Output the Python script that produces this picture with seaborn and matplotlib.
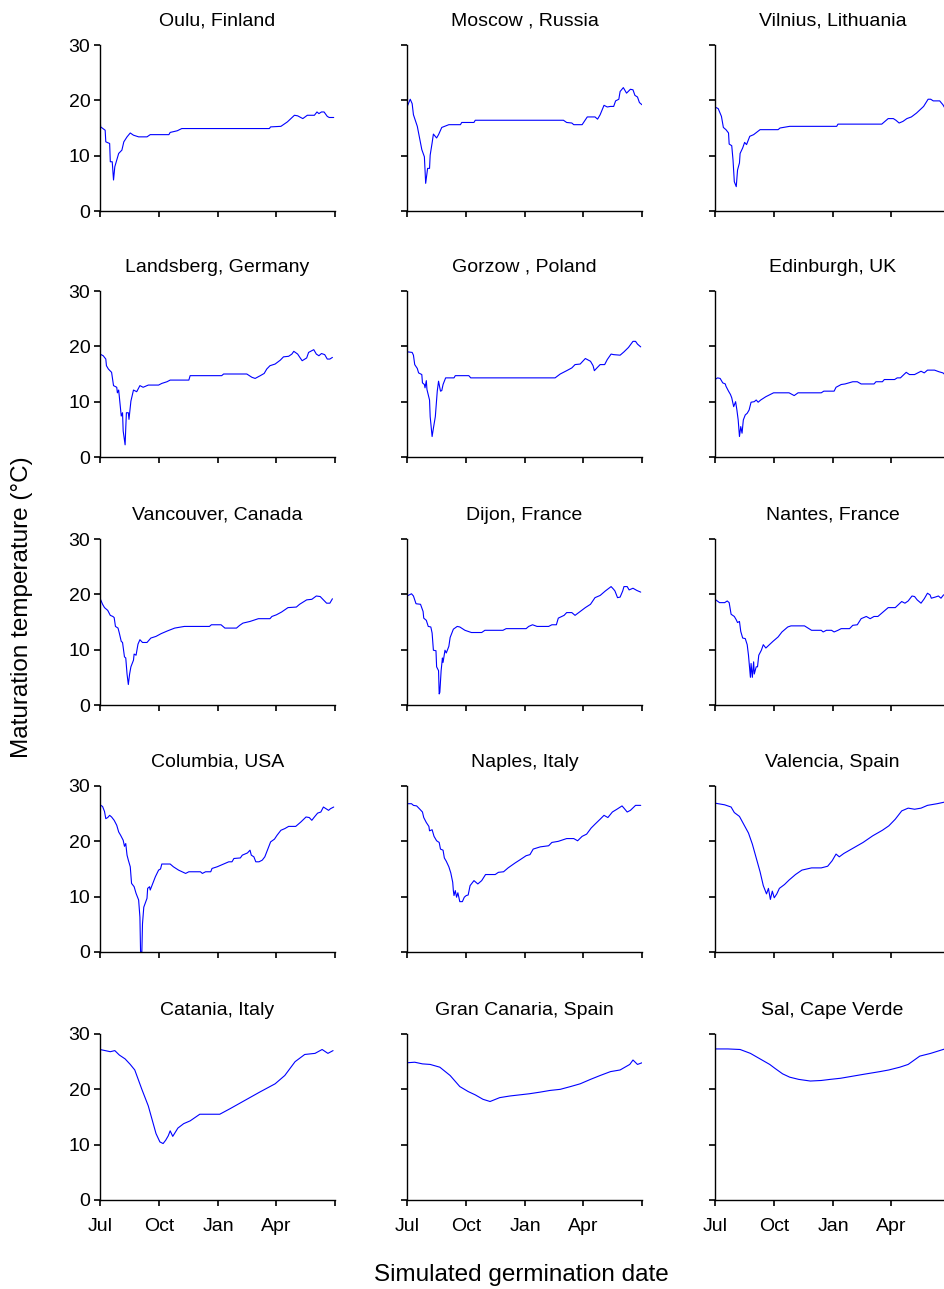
import matplotlib
matplotlib.use("Agg")
import matplotlib.pyplot as plt
import seaborn as sns
import pandas as pd

# Site names (panel titles), in reading order
sites = [
    "Oulu, Finland", "Moscow , Russia", "Vilnius, Lithuania",
    "Landsberg, Germany", "Gorzow , Poland", "Edinburgh, UK",
    "Vancouver, Canada", "Dijon, France", "Nantes, France",
    "Columbia, USA", "Naples, Italy", "Valencia, Spain",
    "Catania, Italy", "Gran Canaria, Spain", "Sal, Cape Verde",
]

# Days since 1 July and maturation temperature (deg C) for each site
oulu_day = [0, 1, 8, 9, 15, 16, 19, 21, 23, 29, 34, 37, 42, 47, 52, 60, 73, 78, 107, 109, 120, 127,
            263, 265, 281, 291, 302, 307, 315, 322, 333, 337, 340, 344, 348, 353, 356, 363]
oulu_temp = [16.7, 15.2, 14.6, 12.5, 12.2, 8.9, 8.9, 5.6, 8.0, 10.4, 11.0, 12.5, 13.4, 14.1, 13.7, 13.4, 13.4, 13.8, 13.8, 14.2, 14.5, 14.9,
             14.9, 15.2, 15.3, 16.1, 17.3, 17.2, 16.7, 17.3, 17.3, 17.9, 17.6, 17.9, 17.9, 17.1, 16.9, 16.9]

moscow_day = [0, 5, 8, 10, 16, 20, 23, 27, 29, 32, 35, 36, 39, 41, 46, 49, 54, 65, 83, 85, 104, 106,
              243, 248, 256, 259, 272, 280, 292, 296, 300, 306, 311, 316, 321, 324, 329, 331, 336, 341,
              347, 351, 354, 358, 361, 365]
moscow_temp = [18.8, 20.2, 19.4, 17.4, 15.3, 12.9, 11.1, 9.8, 5.0, 7.7, 7.7, 10.1, 12.3, 13.9, 13.2, 13.8, 15.1, 15.6, 15.6, 16.0, 16.0, 16.4,
               16.4, 16.0, 15.9, 15.6, 15.6, 17.0, 17.0, 16.6, 17.4, 19.1, 18.8, 18.9, 18.9, 19.9, 20.2, 21.6, 22.3, 21.3,
               22.0, 21.9, 20.9, 20.6, 19.6, 19.2]

vilnius_day = [0, 5, 10, 13, 17, 21, 22, 26, 28, 30, 33, 35, 38, 39, 43, 46, 49, 54, 60, 70, 98, 101, 116,
               189, 191, 259, 269, 277, 281, 286, 292, 298, 305, 313, 324, 331, 335, 339, 349, 354, 358, 365]
vilnius_temp = [18.8, 18.5, 17.1, 15.1, 14.7, 14.1, 12.1, 11.8, 9.2, 5.3, 4.4, 7.4, 8.7, 10.4, 11.4, 12.4, 12.0, 13.5, 13.8, 14.7, 14.7, 15.0, 15.3,
                15.3, 15.7, 15.7, 16.7, 16.7, 16.4, 15.9, 16.2, 16.7, 17.0, 17.7, 18.9, 20.2, 20.2, 19.9, 19.9, 19.2, 18.4, 18.2]

landsberg_day = [0, 5, 9, 10, 13, 18, 21, 26, 27, 29, 33, 35, 36, 39, 40, 41, 44, 45, 48, 52, 57, 62, 67,
                 75, 91, 96, 104, 109, 138, 140, 189, 192, 228, 236, 241, 249, 255, 259, 264, 272, 280,
                 285, 293, 298, 301, 307, 311, 314, 321, 324, 332, 336, 340, 344, 349, 353, 357, 361]
landsberg_temp = [18.6, 18.3, 17.7, 16.5, 15.9, 15.3, 12.9, 12.6, 11.6, 12.1, 7.4, 8.0, 4.7, 2.2, 5.2, 8.0, 8.0, 6.8, 10.1, 12.1, 11.8, 12.9, 12.6,
                  13.0, 13.0, 13.3, 13.6, 13.9, 13.9, 14.7, 14.7, 15.0, 15.0, 14.4, 14.2, 14.7, 15.1, 15.9, 16.5, 16.8, 17.5,
                  18.1, 18.2, 18.6, 19.1, 18.6, 17.9, 17.4, 17.9, 18.9, 19.4, 18.6, 18.3, 18.7, 18.5, 17.7, 17.7, 18.0]

gorzow_day = [1, 8, 10, 12, 16, 18, 23, 24, 27, 28, 30, 31, 35, 36, 39, 41, 44, 47, 49, 52, 54, 56, 60,
              73, 75, 96, 99, 230, 238, 248, 256, 261, 269, 277, 285, 289, 291, 295, 300, 307, 311, 317,
              321, 331, 337, 344, 351, 355, 358, 363]
gorzow_temp = [19.0, 18.9, 18.4, 16.7, 16.0, 15.2, 14.9, 13.4, 13.1, 12.5, 13.8, 12.2, 10.3, 7.3, 3.7, 5.2, 7.3, 11.9, 13.7, 11.9, 12.0, 13.1, 14.3,
               14.3, 14.7, 14.7, 14.3, 14.3, 15.0, 15.6, 16.1, 16.7, 16.8, 17.8, 17.3, 16.5, 15.6, 16.1, 16.7, 16.7, 17.6, 18.6,
               18.5, 18.4, 19.0, 19.8, 20.9, 20.9, 20.4, 19.9]

edinburgh_day = [0, 4, 8, 12, 16, 17, 21, 24, 26, 29, 32, 34, 36, 38, 40, 42, 44, 47, 50, 53, 56, 61, 64,
                 67, 71, 79, 91, 115, 123, 129, 165, 169, 185, 188, 196, 202, 214, 221, 227, 247, 250,
                 260, 263, 279, 283, 288, 297, 302, 310, 320, 325, 330, 341, 348, 354, 358, 365]
edinburgh_temp = [14.0, 14.3, 14.2, 13.4, 13.2, 12.8, 11.9, 11.3, 10.7, 9.1, 10.0, 8.5, 6.7, 3.7, 5.5, 4.3, 6.7, 7.6, 7.9, 8.5, 9.9, 10.0, 10.3,
                  9.9, 10.3, 10.9, 11.6, 11.6, 11.1, 11.6, 11.6, 11.9, 11.9, 12.6, 13.1, 13.2, 13.6, 13.6, 13.2, 13.2, 13.6,
                  13.6, 14.0, 14.0, 14.3, 14.3, 15.3, 14.9, 14.9, 15.5, 15.2, 15.7, 15.7, 15.4, 15.2, 14.8, 14.6]

vancouver_day = [0, 4, 7, 12, 16, 20, 22, 24, 28, 30, 33, 35, 38, 40, 42, 44, 46, 48, 52, 53, 56, 59, 62,
                 66, 73, 79, 87, 95, 105, 116, 131, 170, 173, 188, 194, 212, 217, 222, 233, 246, 264,
                 267, 274, 282, 292, 305, 310, 321, 329, 336, 342, 347, 352, 357, 361]
vancouver_temp = [19.3, 18.2, 17.6, 17.1, 16.2, 16.0, 15.8, 14.2, 13.9, 13.0, 11.5, 11.3, 8.7, 8.5, 5.6, 3.7, 5.6, 6.9, 8.1, 9.2, 9.0, 11.0, 11.8,
                  11.3, 11.3, 12.1, 12.4, 12.9, 13.4, 13.9, 14.2, 14.2, 14.5, 14.5, 13.9, 13.9, 14.4, 14.8, 15.1, 15.6, 15.6,
                  16.0, 16.3, 16.8, 17.6, 17.7, 18.2, 19.0, 19.1, 19.7, 19.6, 19.0, 18.4, 18.4, 19.2]

dijon_day = [0, 7, 10, 14, 21, 25, 26, 30, 33, 37, 39, 41, 45, 46, 49, 50, 51, 53, 55, 56, 59, 61, 65, 67,
             72, 78, 82, 90, 100, 116, 121, 149, 154, 185, 189, 195, 202, 220, 225, 232, 235, 244, 248,
             256, 261, 269, 277, 285, 292, 300, 308, 317, 321, 323, 327, 331, 335, 337, 342, 345, 351, 357, 363]
dijon_temp = [19.7, 20.1, 19.7, 18.3, 18.2, 16.9, 15.7, 15.3, 14.2, 14.1, 13.0, 9.9, 9.8, 6.9, 6.2, 2.0, 2.3, 6.2, 8.5, 7.7, 9.9, 9.4, 10.6, 12.2,
              13.7, 14.2, 14.1, 13.5, 13.1, 13.1, 13.5, 13.5, 13.8, 13.8, 14.2, 14.5, 14.2, 14.2, 14.5, 14.5, 15.7, 16.2, 16.7,
              16.7, 16.2, 16.9, 17.6, 18.2, 19.4, 19.8, 20.6, 21.4, 20.9, 20.6, 19.4, 19.5, 20.6, 21.4, 21.4, 20.8, 21.1, 20.7, 20.4]

nantes_day = [0, 7, 15, 19, 22, 25, 30, 33, 35, 38, 40, 43, 47, 50, 52, 55, 56, 58, 60, 61, 64, 66, 68, 72,
              75, 79, 90, 98, 104, 113, 118, 139, 150, 165, 168, 173, 181, 185, 191, 196, 209, 214, 221,
              227, 235, 241, 247, 253, 261, 269, 280, 290, 295, 300, 306, 310, 314, 320, 325, 330, 334,
              336, 342, 347, 351, 355, 358, 365]
nantes_temp = [19.1, 18.5, 18.5, 18.8, 18.5, 16.4, 16.0, 15.4, 14.9, 15.1, 13.3, 12.1, 12.0, 10.9, 9.0, 5.0, 7.5, 5.0, 7.8, 5.6, 6.9, 6.9, 9.0, 9.9,
               10.9, 10.3, 11.5, 12.3, 13.2, 14.1, 14.3, 14.3, 13.5, 13.5, 13.2, 13.5, 13.5, 13.2, 13.5, 13.8, 13.8, 14.4, 14.5,
               15.6, 16.0, 15.6, 16.0, 16.0, 16.8, 17.6, 17.6, 18.7, 18.4, 18.8, 19.7, 19.6, 19.0, 18.4, 19.2, 20.2, 19.9,
               19.3, 19.5, 19.7, 19.3, 19.9, 19.9, 19.8]

columbia_day = [0, 4, 7, 9, 12, 15, 18, 22, 26, 29, 32, 36, 38, 40, 42, 44, 47, 49, 53, 56, 60, 62, 63, 65,
                66, 68, 73, 74, 77, 78, 82, 86, 91, 94, 96, 109, 114, 122, 133, 138, 156, 159, 164, 172,
                174, 182, 192, 200, 205, 208, 218, 221, 229, 233, 235, 239, 242, 247, 252, 256, 259, 263,
                265, 271, 275, 281, 287, 293, 304, 312, 320, 325, 329, 333, 338, 343, 347, 351, 355, 358, 363]
columbia_temp = [26.6, 26.3, 25.4, 24.1, 24.3, 24.7, 24.4, 23.8, 22.9, 21.7, 21.1, 20.2, 19.1, 19.6, 17.5, 16.6, 15.4, 12.4, 11.8, 10.6, 9.4, 6.3, 0.0, 0.0,
                 5.1, 8.1, 9.7, 11.5, 11.8, 11.2, 12.4, 13.6, 14.8, 15.0, 15.9, 15.9, 15.4, 14.8, 14.2, 14.5, 14.5, 14.2, 14.5, 14.5,
                 15.1, 15.4, 15.9, 16.3, 16.3, 16.9, 17.0, 17.5, 17.9, 18.4, 17.5, 17.2, 16.3, 16.3, 16.6, 17.2, 18.1, 19.3,
                 19.9, 20.4, 21.1, 22.0, 22.3, 22.7, 22.7, 23.5, 24.4, 24.3, 23.8, 24.4, 25.1, 25.3, 26.2, 25.9, 25.6, 25.9, 26.2]

naples_day = [0, 7, 10, 15, 20, 24, 26, 30, 34, 35, 39, 42, 46, 50, 52, 56, 58, 61, 65, 68, 71, 72, 73, 75,
              77, 79, 82, 86, 89, 92, 95, 98, 104, 110, 116, 122, 137, 142, 150, 157, 168, 176, 185, 191,
              196, 207, 220, 225, 235, 248, 259, 265, 272, 279, 286, 292, 300, 306, 312, 319, 326, 334,
              337, 342, 347, 355, 363]
naples_temp = [26.8, 26.8, 26.5, 26.4, 25.8, 25.3, 24.3, 23.4, 22.7, 21.9, 22.1, 20.9, 20.1, 19.8, 18.6, 18.4, 17.0, 16.4, 15.4, 14.3, 12.6, 11.1, 10.2, 11.1,
               9.9, 10.7, 9.1, 9.1, 9.9, 10.2, 10.3, 12.0, 12.9, 12.3, 12.9, 14.0, 14.0, 14.4, 14.5, 15.2, 16.1, 16.7, 17.4, 17.6,
               18.6, 19.0, 19.2, 19.8, 20.0, 20.5, 20.5, 20.1, 20.9, 21.3, 22.4, 23.1, 24.0, 24.7, 24.3, 25.3, 25.8, 26.4,
               26.0, 25.3, 25.6, 26.5, 26.5]

valencia_day = [0, 15, 25, 30, 38, 45, 52, 58, 64, 70, 75, 80, 83, 86, 89, 92, 96, 100, 108, 115, 125, 135,
                150, 165, 175, 182, 188, 193, 200, 215, 230, 245, 260, 270, 280, 290, 300, 310, 320, 330, 345, 365]
valencia_temp = [26.9, 26.6, 26.2, 25.2, 24.5, 23.0, 21.5, 19.5, 17.0, 14.5, 12.0, 10.5, 11.5, 9.5, 11.0, 9.8, 10.5, 11.5, 12.2, 13.0, 14.0, 14.8,
                 15.2, 15.2, 15.5, 16.5, 17.7, 17.2, 17.8, 18.8, 19.8, 21.0, 22.0, 22.8, 24.0, 25.5, 26.0, 25.8, 26.0, 26.5, 26.8, 27.3]

catania_day = [0, 8, 16, 23, 30, 39, 47, 54, 65, 75, 81, 87, 93, 98, 102, 106, 109, 113, 121, 130, 140, 155,
               170, 186, 202, 225, 248, 272, 287, 303, 318, 334, 345, 354, 362]
catania_temp = [27.2, 27.0, 26.8, 27.0, 26.2, 25.5, 24.5, 23.5, 20.0, 17.0, 14.5, 12.0, 10.5, 10.2, 10.8, 11.6, 12.5, 11.5, 13.0, 13.8, 14.3, 15.5,
                15.5, 15.5, 16.5, 18.0, 19.5, 21.0, 22.5, 25.0, 26.3, 26.5, 27.2, 26.5, 27.0]

canaria_day = [0, 12, 24, 36, 51, 67, 82, 95, 106, 118, 129, 144, 160, 175, 190, 207, 222, 238, 254, 269,
               285, 300, 316, 331, 346, 351, 358, 365]
canaria_temp = [24.8, 24.9, 24.6, 24.5, 24.0, 22.5, 20.5, 19.6, 19.0, 18.2, 17.8, 18.5, 18.8, 19.0, 19.2, 19.5, 19.8, 20.0, 20.5, 21.0,
                21.8, 22.5, 23.2, 23.5, 24.5, 25.3, 24.5, 24.8]

sal_day = [0, 20, 39, 55, 70, 85, 93, 105, 116, 130, 148, 165, 179, 195, 210, 230, 256, 270, 287, 300, 318, 335, 357, 365]
sal_temp = [27.3, 27.3, 27.2, 26.5, 25.5, 24.5, 23.8, 22.8, 22.2, 21.8, 21.5, 21.6, 21.8, 22.0, 22.3, 22.7, 23.2, 23.5, 24.0, 24.5, 26.0, 26.5, 27.3, 27.5]

series = [
    (oulu_day, oulu_temp), (moscow_day, moscow_temp), (vilnius_day, vilnius_temp),
    (landsberg_day, landsberg_temp), (gorzow_day, gorzow_temp), (edinburgh_day, edinburgh_temp),
    (vancouver_day, vancouver_temp), (dijon_day, dijon_temp), (nantes_day, nantes_temp),
    (columbia_day, columbia_temp), (naples_day, naples_temp), (valencia_day, valencia_temp),
    (catania_day, catania_temp), (canaria_day, canaria_temp), (sal_day, sal_temp),
]

# Month ticks (days since 1 July); the final tick marks the following July
month_ticks = [0, 92, 184, 274, 365]
month_labels = ["Jul", "Oct", "Jan", "Apr", ""]
temp_ticks = [0, 10, 20, 30]

frames = []
for name, (d, t) in zip(sites, series):
    frames.append(pd.DataFrame({"site": name, "day": d, "temp": t}))
df = pd.concat(frames, ignore_index=True)

sns.set_style("ticks")
plt.rcParams["font.family"] = ["Liberation Sans", "DejaVu Sans"]
plt.rcParams["text.color"] = "black"
plt.rcParams["axes.labelcolor"] = "black"

W, H = 945, 1289
fig = plt.figure(figsize=(W / 100, H / 100), dpi=100)

col_left = [100, 407, 715]
row_bottom = [211, 457, 705, 952, 1200]
ax_w, ax_h = 235, 166

for i, name in enumerate(sites):
    r, c = divmod(i, 3)
    ax = fig.add_axes([col_left[c] / W, 1 - row_bottom[r] / H, ax_w / W, ax_h / H])
    sub = df[df["site"] == name]
    sns.lineplot(data=sub, x="day", y="temp", ax=ax, color="#0000FF",
                 linewidth=0.8, estimator=None, sort=False)
    ax.set_xlim(0, 365)
    ax.set_ylim(0, 30)
    ax.set_xticks(month_ticks)
    ax.set_yticks(temp_ticks)
    if r == 4:
        ax.set_xticklabels(month_labels)
    else:
        ax.set_xticklabels([])
    if c == 0:
        ax.set_yticklabels([str(v) for v in temp_ticks])
    else:
        ax.set_yticklabels([])
    ax.set_xlabel("")
    ax.set_ylabel("")
    ax.set_title(name, fontsize=14, pad=14, color="black")
    for side in ("top", "right"):
        ax.spines[side].set_visible(False)
    for side in ("left", "bottom"):
        ax.spines[side].set_linewidth(1.0)
        ax.spines[side].set_color("black")
        ax.spines[side].set_zorder(3)
    ax.tick_params(axis="both", direction="out", length=4, width=1.2,
                   color="black", labelsize=14, labelcolor="black")
    ax.tick_params(axis="x", pad=9)
    ax.tick_params(axis="y", pad=3)

fig.text(521 / W, 1 - 1275 / H, "Simulated germination date", fontsize=17.5,
         ha="center", va="center", color="black")
fig.text(22 / W, 1 - 607 / H, "Maturation temperature (°C)", fontsize=17.5,
         ha="center", va="center", rotation=90, color="black")

fig.savefig("out.png", dpi=100)
